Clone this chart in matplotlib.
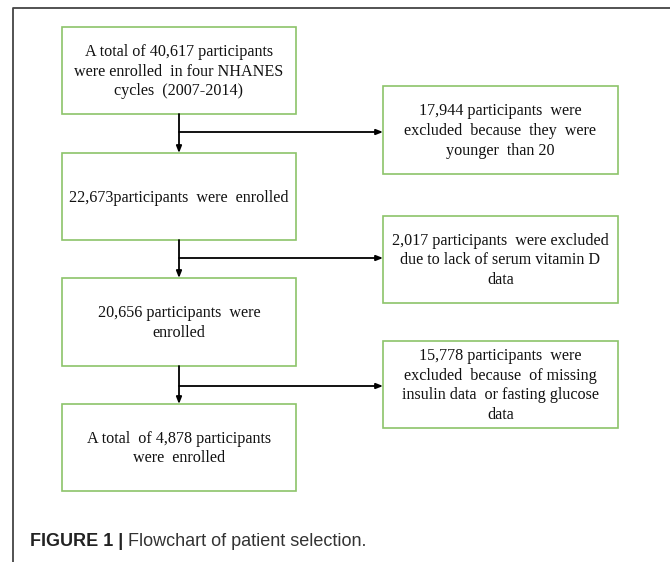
import matplotlib
matplotlib.use('Agg')
from matplotlib import pyplot as plt
from matplotlib.patches import Rectangle

# flowchart text
main_steps = [
    "A total of 40,617 participants\nwere enrolled  in four NHANES\ncycles  (2007-2014)",
    "22,673participants  were  enrolled",
    "20,656 participants  were\nenrolled",
    "A total  of 4,878 participants\nwere  enrolled",
]
exclusions = [
    "17,944 participants  were\nexcluded  because  they  were\nyounger  than 20",
    "2,017 participants  were excluded\ndue to lack of serum vitamin D\ndata",
    "15,778 participants  were\nexcluded  because  of missing\ninsulin data  or fasting glucose\ndata",
]
caption_bold = "FIGURE 1 |"
caption_text = "Flowchart of patient selection."

# layout in pixels
W, H = 670, 562
main_x0, main_x1 = 62, 296
main_y = [(27, 114), (153, 240), (278, 366), (404, 491)]
exc_x0, exc_x1 = 383, 618
exc_y = [(86, 174), (216, 303), (341, 428)]
branch_y = [132, 258, 386]
stem_x = 179
green = '#8cc46a'

fig = plt.figure(figsize=(W / 100, H / 100), dpi=100)
ax = fig.add_axes([0, 0, 1, 1])
ax.set_xlim(0, W)
ax.set_ylim(H, 0)
ax.axis('off')

# open page frame (top and left)
ax.plot([13, 13, W], [H, 8, 8], color='#444444', lw=1.3)

serif = 'Liberation Serif'

for (y0, y1), txt in zip(main_y, main_steps):
    ax.add_patch(Rectangle((main_x0, y0), main_x1 - main_x0, y1 - y0,
                           fill=False, edgecolor=green, lw=1.2))
    ax.text((main_x0 + main_x1) / 2, (y0 + y1) / 2 + 1, txt, ha='center', va='center',
            family=serif, fontsize=11.6, linespacing=1.32, color='#111111')

for (y0, y1), txt in zip(exc_y, exclusions):
    ax.add_patch(Rectangle((exc_x0, y0), exc_x1 - exc_x0, y1 - y0,
                           fill=False, edgecolor=green, lw=1.2))
    ax.text((exc_x0 + exc_x1) / 2, (y0 + y1) / 2 + 1, txt, ha='center', va='center',
            family=serif, fontsize=11.6, linespacing=1.32, color='#111111')

arrow_kw = dict(arrowstyle='-|>,head_length=0.4,head_width=0.16', color='black',
                lw=1.3, shrinkA=0, shrinkB=0)
for i in range(3):
    top = main_y[i][1]
    nxt = main_y[i + 1][0]
    ax.annotate('', xy=(stem_x, nxt), xytext=(stem_x, top), arrowprops=arrow_kw)
    ax.annotate('', xy=(exc_x0, branch_y[i]), xytext=(stem_x, branch_y[i]),
                arrowprops=arrow_kw)

t = ax.text(30, 542, caption_bold, ha='left', va='center', family='Liberation Sans',
            fontsize=13, fontweight='bold', color='#222222')
fig.canvas.draw()
bb = t.get_window_extent()
ax.text(30 + bb.width + 5, 542, caption_text, ha='left', va='center',
        family='Liberation Sans', fontsize=13, color='#333333')

plt.savefig('out.png', dpi=100)
